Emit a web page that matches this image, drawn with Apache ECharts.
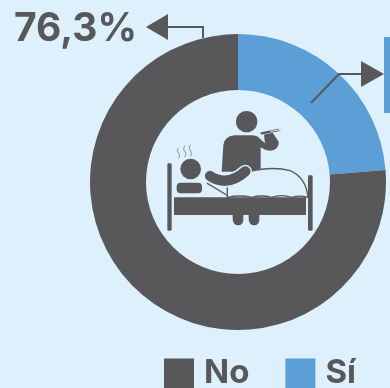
<!DOCTYPE html>
<html>
<head>
<meta charset="utf-8">
<style>html,body{margin:0;padding:0;background:#ddf0fc}#c{width:390px;height:388px}</style>
<script src="https://cdn.jsdelivr.net/npm/echarts@6/dist/echarts.min.js"></script>
</head>
<body>
<div id="c"></div>
<script>
const categories = ['Sí', 'No'];
const shares = [23.7, 76.3];
const legendOrder = ['No', 'Sí'];
const headline = '76,3%';

const dark = '#58585a';
const blue = '#5b9fd6';
const paper = '#ddf0fc';

const chart = echarts.init(document.getElementById('c'), null, { renderer: 'canvas' });

// Registers an SVG path as a named shape so the graphic component can draw it
let shapeCount = 0;
function svgPath(pathData, style) {
  const type = 'iconPath' + (shapeCount++);
  echarts.graphic.registerShape(type, echarts.graphic.extendPath(pathData, {}));
  return { type, style };
}

// Patient-in-bed pictogram, drawn on a 3x grid and scaled down into the hole of the ring
const d = { stroke: dark, fill: 'none', lineCap: 'round', lineJoin: 'round' };
const icon = {
  type: 'group', x: 150, y: 100, scaleX: 1 / 3, scaleY: 1 / 3, z: 20,
  children: [
    { type: 'rect', shape: { x: 52, y: 190, width: 13, height: 202, r: 4 }, style: { fill: dark } },
    { type: 'rect', shape: { x: 474, y: 226, width: 14, height: 166, r: 4 }, style: { fill: dark } },
    { type: 'rect', shape: { x: 72, y: 292, width: 396, height: 53 }, style: { fill: dark } },
    { type: 'circle', shape: { cx: 122, cy: 207, r: 31 }, style: { fill: dark } },
    { type: 'rect', shape: { x: 80, y: 248, width: 76, height: 32, r: 12 }, style: { fill: dark } },
    { type: 'circle', shape: { cx: 290, cy: 65, r: 32 }, style: { fill: dark } },
    svgPath('M215,215 L220,135 Q224,108 255,106 L305,106 Q320,106 330,116 L345,130 L342,104 L368,98 L386,125 Q388,150 360,152 Q345,152 332,142 L332,215 Z', { fill: dark }),
    svgPath('M248,340 L248,358 Q250,376 264,376 Q280,376 280,358 L280,340 Z M296,340 L296,358 Q298,376 312,376 Q328,376 328,358 L328,340 Z', { fill: dark }),
    // blanket with a wavy hem along the mattress
    svgPath('M232,292 L232,250 L300,214 Q370,198 420,212 Q468,232 474,292 Q450,285 425,292 Q395,282 365,292 Q335,284 305,292 Q270,284 232,292 Z', { fill: paper, stroke: dark, lineWidth: 4 }),
    // sick person's arm lying on the blanket, with a pale halo
    svgPath('M180,228 Q232,262 286,214', { ...d, stroke: paper, lineWidth: 40 }),
    svgPath('M180,228 Q232,262 286,214', { ...d, lineWidth: 31 }),
    svgPath('M172,250 L230,285', { ...d, lineWidth: 4 }),
    // thermometer
    svgPath('M335,100 L385,90', { ...d, lineWidth: 7 }),
    svgPath('M362,94 L392,88', { ...d, stroke: '#c9ced3', lineWidth: 4 }),
    // fever steam
    svgPath('M84,145 Q78,153 86,160 Q92,167 86,174 M103,138 Q97,148 105,155 Q111,162 105,170 M120,136 Q114,146 122,153 Q128,160 122,168', { ...d, stroke: '#7d7f82', lineWidth: 2.5 })
  ]
};

chart.setOption({
  backgroundColor: paper,
  animation: false,
  legend: {
    data: legendOrder,
    left: 164,
    top: 357,
    padding: 0,
    itemWidth: 30,
    itemHeight: 30,
    itemGap: 36,
    icon: 'rect',
    textStyle: { fontFamily: 'Inter', fontWeight: 700, fontSize: 33, color: dark, padding: [3, 0, 0, 5] }
  },
  series: [{
    type: 'pie',
    center: [238, 182],
    radius: [92, 148],
    startAngle: 90,
    clockwise: true,
    silent: true,
    label: { show: false },
    labelLine: { show: false },
    itemStyle: { borderColor: paper, borderWidth: 0 },
    data: categories.map((name, i) => ({
      name, value: shares[i],
      itemStyle: { color: name === 'No' ? dark : blue }
    }))
  }],
  graphic: [
    { type: 'text', x: 14, y: 10, z: 20, style: { text: headline, fontFamily: 'Inter', fontWeight: 700, fontSize: 39, fill: dark } },
    { type: 'polygon', z: 20, shape: { points: [[146, 27], [168, 14], [168, 40]] }, style: { fill: dark } },
    { type: 'polyline', z: 20, shape: { points: [[168, 27], [203, 27], [203, 38]] }, style: { stroke: dark, lineWidth: 2, fill: 'none' } },
    { type: 'polyline', z: 20, shape: { points: [[311, 103], [339, 74], [362, 74]] }, style: { stroke: dark, lineWidth: 2, fill: 'none' } },
    { type: 'polygon', z: 20, shape: { points: [[384, 74], [361, 61], [361, 87]] }, style: { fill: dark } },
    { type: 'rect', z: 20, shape: { x: 384, y: 37, width: 6, height: 76 }, style: { fill: blue } },
    icon
  ]
});
</script>
</body>
</html>
